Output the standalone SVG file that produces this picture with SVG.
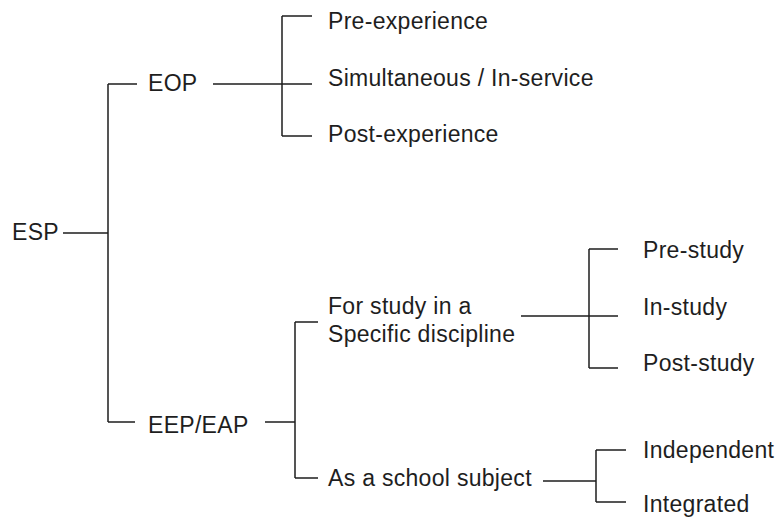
<svg xmlns="http://www.w3.org/2000/svg" width="775" height="517" viewBox="0 0 775 517">
<style>
text { font-family: "Liberation Sans", Arial, sans-serif; font-size: 23px; letter-spacing: 0.3px; fill: #1e1e1e; }
.c { fill: none; stroke: #1e1e1e; stroke-width: 1.5; }
</style>
<rect width="775" height="517" fill="#ffffff"/>
<g id="connectors" class="c">
<path d="M63 233 H108 M108 84 V422 M108 84 H137 M108 422 H135"/>
<path d="M213 84 H282 M282 16 V136 M282 16 H312 M282 84 H312 M282 136 H312"/>
<path d="M265 422 H295 M295 322 V478 M295 322 H318 M295 478 H318"/>
<path d="M521 316 H618 M589 249 V368 M589 249 H618 M589 368 H618"/>
<path d="M543 481 H596 M596 450 V502 M596 450 H626 M596 502 H626"/>
</g>
<g id="esp"><text x="12" y="240">ESP</text></g>
<g id="eop"><text x="148" y="91">EOP</text></g>
<g id="pre-experience"><text x="328" y="29">Pre-experience</text></g>
<g id="simultaneous"><text x="328" y="86">Simultaneous / In-service</text></g>
<g id="post-experience"><text x="328" y="142">Post-experience</text></g>
<g id="eep-eap"><text x="148" y="433">EEP/EAP</text></g>
<g id="specific-discipline"><text x="328" y="314">For study in a</text><text x="328" y="342">Specific discipline</text></g>
<g id="school-subject"><text x="328" y="486">As a school subject</text></g>
<g id="pre-study"><text x="643" y="258">Pre-study</text></g>
<g id="in-study"><text x="643" y="315">In-study</text></g>
<g id="post-study"><text x="643" y="371">Post-study</text></g>
<g id="independent"><text x="643" y="458">Independent</text></g>
<g id="integrated"><text x="643" y="512">Integrated</text></g>
</svg>
